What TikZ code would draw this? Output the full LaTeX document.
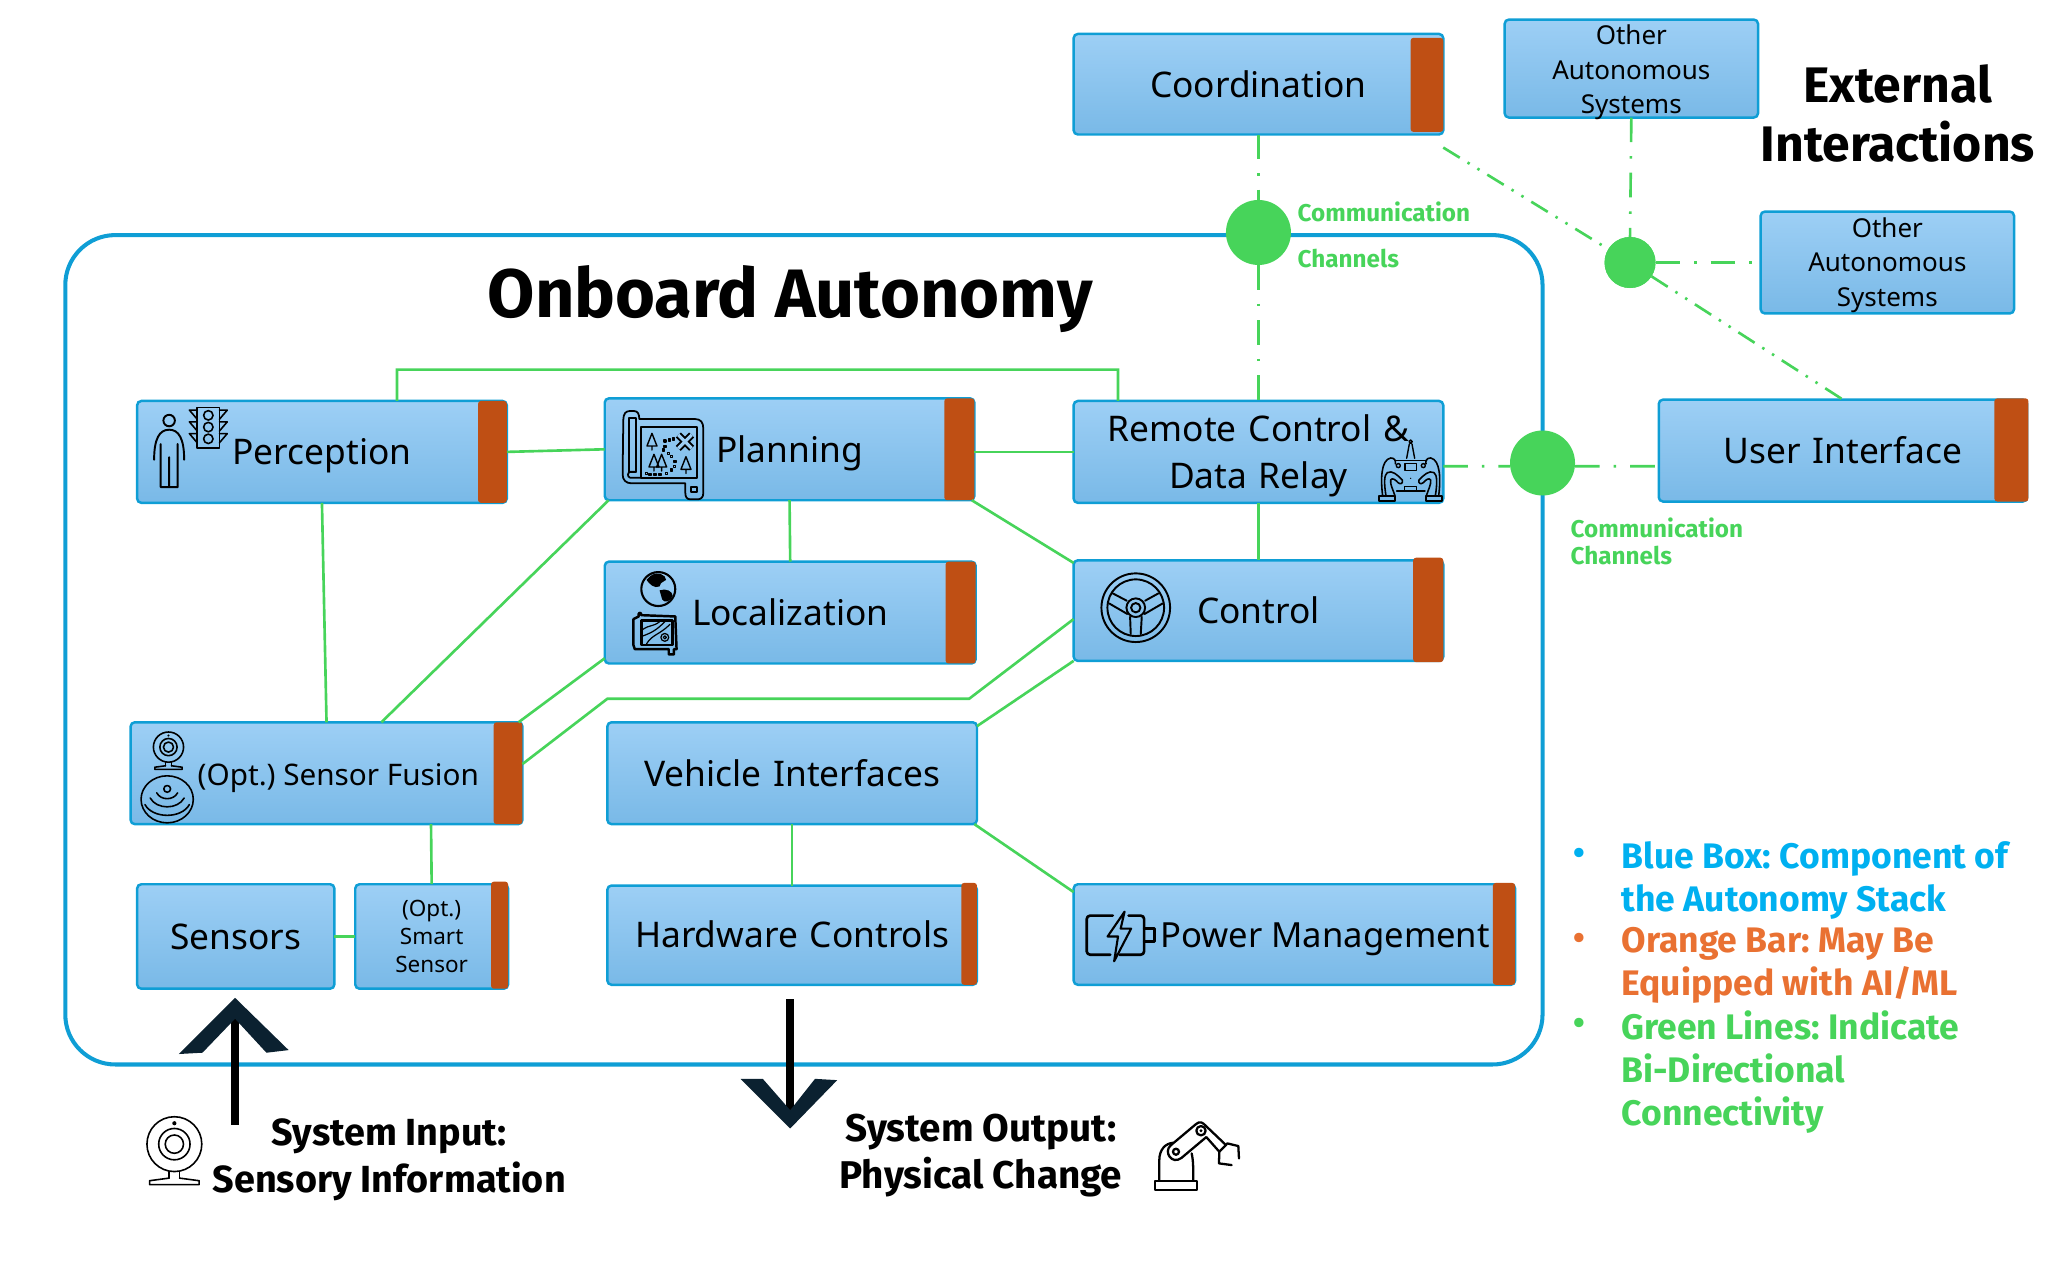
\documentclass[tikz,border=0pt]{standalone}
\usepackage{fontspec}
\setmainfont{Noto Sans}[BoldFont={Fira Sans Bold}]
\usetikzlibrary{calc}
\definecolor{bord}{HTML}{0F9ED5}
\definecolor{boxt}{HTML}{9DCFF5}
\definecolor{boxb}{HTML}{79B9E7}
\definecolor{barc}{HTML}{BF4F14}
\definecolor{grn}{HTML}{47D45A}
\definecolor{legb}{HTML}{00B0F0}
\definecolor{lego}{HTML}{E97132}
\definecolor{navy}{HTML}{0B2130}
\newcommand{\fs}[2]{\fontsize{#1}{#2}\selectfont\frenchspacing}
\newcommand{\bxs}{\rule[-2.7pt]{0pt}{12.7pt}}
\tikzset{
  x=0.0130612cm,y=-0.0130612cm,
  bluebox/.style={draw=bord,line width=0.7pt,rounded corners=1.2pt,top color=boxt,bottom color=boxb,inner sep=0pt,outer sep=0pt,align=center,text=black,execute at begin node=\bxs,execute at end node=\bxs},
  barbox/.style={fill=barc,draw=none,rounded corners=0.8pt,inner sep=0pt,outer sep=0pt},
  link/.style={draw=grn,line width=0.75pt},
  dashlink/.style={draw=grn,line width=0.75pt,dash pattern=on 7pt off 4pt on 0.7pt off 4pt},
  dashlinkb/.style={draw=grn,line width=0.75pt,dash pattern=on 5.5pt off 2.6pt on 0.7pt off 2.6pt on 0.7pt off 2.6pt},
  hubc/.style={circle,fill=grn,draw=none,inner sep=0pt,outer sep=0pt},
  ico/.style={draw=black,line width=0.45pt,line join=round,line cap=round},
  mainlabel/.style={font=\fs{10.05}{13.4}},
  smalllabel/.style={font=\fs{7.4}{9.85},align=center,inner sep=0pt},
  smartlabel/.style={font=\fs{6.4}{7.9}\def\bxs{\rule[-0.4pt]{0pt}{5.4pt}}},
  commlabel/.style={text=grn,align=left,anchor=west,inner sep=0pt},
  legendtext/.style={font=\bfseries\fs{10.1}{12.2},align=left,anchor=west,inner sep=0pt},
  blacklabel/.style={font=\bfseries\fs{11}{13.4},align=center,inner sep=0pt},
}
\newcommand{\bx}[6][mainlabel]{%
  \pgfmathsetmacro\bw{(#4-#2)*0.0130612}\pgfmathsetmacro\bh{(#5-#3)*0.0130612}%
  \node[bluebox,#1,minimum width=\bw cm,minimum height=\bh cm,text width=\bw cm] (#6) at ({(#2+#4)/2},{(#3+#5)/2})}
\newcommand{\br}[5]{%
  \pgfmathsetmacro\bw{(#4-#2)*0.0130612}\pgfmathsetmacro\bh{(#5-#3)*0.0130612}%
  \node[barbox,minimum width=\bw cm,minimum height=\bh cm] (#1) at ({(#2+#4)/2},{(#3+#5)/2}) {};}
\newcommand{\webcam}[3]{%
\begin{scope}[shift={(#1,#2)},scale=#3]
 \draw[ico] (0,0) circle (21);
 \draw[ico] (0,0) circle (12);
 \draw[ico] (0,0) circle (7);
 \fill (0,-16) circle (1.6);
 \draw[ico] (-4,21) -- (-4,26) (4,21) -- (4,26);
 \draw[ico] (-4,26) -- (-19,28) -- (-19,31) -- (19,31) -- (19,28) -- (4,26);
\end{scope}}
\begin{document}
\begin{tikzpicture}
\useasboundingbox (0,0) rectangle (1568,980);
% frame
\pgfmathsetmacro\fw{(1181-50)*0.0130612}\pgfmathsetmacro\fh{(815-180)*0.0130612}
\node[draw=bord,line width=1.15pt,rounded corners=0.5cm,minimum width=\fw cm,minimum height=\fh cm,inner sep=0pt,outer sep=0pt] (frame) at (615.5,497.5) {};
% boxes
\bx{822}{26}{1105}{103}{coord} {Coordination};
\bx{1152}{15}{1346}{90}{other1} {};
\bx{1348}{162}{1542}{240}{other2} {};
\node[smalllabel] (other1txt) at (1249,55.5) {Other\\Autonomous\\Systems};
\node[smalllabel] (other2txt) at (1445,203) {Other\\Autonomous\\Systems};
\bx{1270}{306}{1552}{384}{ui} {User Interface};
\bx{105}{307}{388}{385}{perc} {Perception};
\bx{463}{305}{746}{383}{plan} {Planning};
\bx{822}{307}{1105}{385}{remote} {Remote Control \&\\Data Relay};
\bx{463}{430}{747}{508}{loc} {Localization};
\bx{822}{429}{1105}{506}{ctrl} {Control};
\bx{100}{553}{400}{631}{fusion} {};
\bx{465}{553}{748}{631}{veh} {Vehicle Interfaces};
\bx{105}{677}{256}{757}{sensors} {Sensors};
\bx[smartlabel]{272}{677}{389}{757}{smart} {(Opt.)\\Smart\\Sensor};
\bx{465}{678}{748}{754}{hw} {Hardware Controls};
\bx{822}{677}{1160}{754}{power} {};
\node[font=\fs{8.45}{10},inner sep=0pt] (fusiontxt) at (259,596) {\strut(Opt.) Sensor Fusion};
\node[font=\fs{9.85}{13.4},inner sep=0pt] (powertxt) at (1014.5,718) {\strut Power Management};
% bars
\br{b1}{1080}{29}{1105}{101}
\br{b2}{1527}{305}{1553}{384}
\br{b3}{366}{307}{388}{385}
\br{b4}{723}{305}{746}{383}
\br{b5}{724}{430}{747}{508}
\br{b6}{1082}{427}{1105}{507}
\br{b7}{378}{553}{400}{631}
\br{b8}{376}{675}{389}{757}
\br{b9}{736}{676}{748}{754}
\br{b10}{1143}{676}{1160}{754}
% hubs
\node[hubc,minimum size=0.65cm] (hub1) at (963.5,178) {};
\node[hubc,minimum size=0.51cm] (hub2) at (1248,201) {};
\node[hubc,minimum size=0.65cm] (hub3) at (1181,354.5) {};
% connectors
\coordinate (loopL) at (304,283);
\coordinate (loopR) at (856,283);
\coordinate (bendA) at (465,535);
\coordinate (bendB) at (742,535);
\draw[link] ($(perc.north)+(57.5,0)$) -- (loopL) -- (loopR) -- ($(remote.north)+(-107.5,0)$);
\draw[link] (perc.south) -- (fusion.north);
\draw[link] (perc.east) -- (plan.west);
\draw[link] ($(plan.east)+(0,2)$) -- (remote.west);
\draw[link] ($(plan.south west)+(3,0)$) -- ($(fusion.north)+(42,0)$);
\draw[link] (plan.south) -- (loc.north);
\draw[link] ($(plan.south east)+(-2,0)$) -- ($(ctrl.north west)+(0,2)$);
\draw[link] ($(loc.south west)+(0,-4)$) -- ($(fusion.north east)+(-3,0)$);
\draw[link] ($(fusion.east)+(0,-7)$) -- (bendA) -- (bendB) -- ($(ctrl.west)+(0,6.5)$);
\draw[link] ($(veh.north east)+(0,3)$) -- (ctrl.south west);
\draw[link] (remote.south) -- (ctrl.north);
\draw[link] ($(fusion.south)+(80,0)$) -- (smart.north);
\draw[link] (sensors.east) -- (smart.west);
\draw[link] (veh.south) -- (hw.north);
\draw[link] ($(veh.south east)+(-2,0)$) -- ($(power.north west)+(0,6)$);
% dash-dot
\draw[dashlink] (coord.south) -- (hub1.north);
\draw[dashlink] (hub1.south) -- (remote.north);
\draw[dashlink] (other1.south) -- (hub2.north);
\draw[dashlink] (hub2.east) -- (other2.west);
\draw[dashlink] ($(remote.east)+(0,11)$) -- ($(hub3.west)+(0,2.5)$);
\draw[dashlink] ($(hub3.east)+(0,2.5)$) -- ($(ui.west)+(0,12)$);
\draw[dashlinkb] ($(coord.south east)+(0,10)$) -- (hub2);
\draw[dashlinkb] (hub2) -- (ui.north);
\node[hubc,minimum size=0.51cm] (hub2b) at (1248,201) {};
% titles
\node[font=\bfseries\fs{19.5}{22},inner sep=0pt] (title) at (605,229) {Onboard Autonomy};
\node[font=\bfseries\fs{14.2}{16.7},align=center,inner sep=0pt] (ext) at (1453,87) {External\\Interactions};
\node[commlabel,font=\bfseries\fs{6.9}{13}] (c1) at (993,180) {Communication\\Channels};
\node[commlabel,font=\bfseries\fs{6.9}{7.8}] (c2) at (1202,414.5) {Communication\\Channels};
\node[blacklabel,font=\bfseries\fs{10.75}{13.4}] (sysin) at (298,888) {System Input:\\Sensory Information};
\node[blacklabel] (sysout) at (751,885) {System Output:\\Physical Change};
% legend
\node[text=legb,font=\bfseries\fs{9.6}{12}] (bu1) at (1209,656) {•};
\node[text=lego,font=\bfseries\fs{9.6}{12}] (bu2) at (1209,721) {•};
\node[text=grn,font=\bfseries\fs{9.6}{12}] (bu3) at (1209,786) {•};
\node[legendtext,text=legb] (l1) at (1241,674) {Blue Box: Component of\\the Autonomy Stack};
\node[legendtext,text=lego] (l2) at (1241,739) {Orange Bar: May Be\\Equipped with AI/ML};
\node[legendtext,text=grn] (l3) at (1241,821) {Green Lines: Indicate\\Bi-Directional\\Connectivity};
% big arrows
\coordinate (upS) at (180,861);
\coordinate (upE) at (180,775);
\coordinate (dnS) at (605,765);
\coordinate (dnE) at (605,855);
\draw[line width=2.2pt,black] (upS) -- (upE);
\draw[line width=2.2pt,black] (dnS) -- (dnE);
\fill[navy] (180,764) -- (221,804) -- (204,806) -- (180,780) -- (155,806) -- (137,807) -- cycle;
\fill[navy] (605,864) -- (567,826) -- (584,826) -- (605,850) -- (624,826) -- (641,827) -- cycle;
% --- icons ---
% person
\draw[ico,line width=0.55pt] (129.5,322) circle (4.4);
\draw[ico,line width=0.55pt] (118,352) .. controls (118,336) and (122,329) .. (129.5,329) .. controls (137,329) and (141,336) .. (141,352)
  (123,340) -- (123,373) -- (136,373) -- (136,340) (129.5,350) -- (129.5,373);
% traffic light
\draw[ico] (151,312) rectangle (168,343);
\foreach \yy in {318,327,336}{\draw[ico] (159.5,\yy) circle (3.6);
  \draw[ico] (151,\yy-4) -- (145,\yy-4) -- (151,\yy+3) (168,\yy-4) -- (174,\yy-4) -- (168,\yy+3);}
% map (planning)
\begin{scope}[shift={(467,310.1)},scale=0.2552]
\draw[ico,line width=0.5pt] (40,45) .. controls (40,25) and (48,18) .. (60,18) -- (72,18) .. controls (84,18) and (88,28) .. (88,42) -- (255,42) .. controls (272,42) and (280,52) .. (280,70) -- (280,265) .. controls (280,278) and (272,283) .. (262,283) -- (242,283) .. controls (230,283) and (226,276) .. (226,262) -- (226,235) -- (65,235) .. controls (48,235) and (38,225) .. (38,208) -- cycle;
\draw[ico,line width=0.5pt] (58,38) rectangle (78,200);
\draw[ico,line width=0.5pt] (93,65) rectangle (262,218);
\draw[ico,line width=0.5pt] (243,247) rectangle (262,262);
\draw[ico,line width=0.5pt] (78,200) -- (60,200) .. controls (52,204) and (52,215) .. (60,218) -- (93,218);
\foreach \xx/\yy in {126/85,132/148,155/148,228/155}{\draw[ico,line width=0.4pt] (\xx,\yy) -- ++(-15,38) -- ++(30,0) -- cycle (\xx,\yy+38) -- ++(0,12);}
\draw[black,line width=2pt] (205,90) -- (245,130) (245,90) -- (205,130);
\draw[boxt,line width=0.9pt] (205,90) -- (245,130) (245,90) -- (205,130);
\foreach \xx/\yy in {190/102,178/105,165/108,165/125,160/135,175/145,185/155,195/170,193/185,185/195,170/205,150/208,135/208,120/208,110/205}{\draw[ico,line width=0.35pt] (\xx-3,\yy-3) rectangle (\xx+3,\yy+3);}
\end{scope}
% globe + map (localization)
\draw[ico,line width=0.6pt] (504,451) circle (13);
\fill (498,441) .. controls (503,437) and (510,440) .. (510,444) .. controls (508,446) and (506,445) .. (505,449) .. controls (501,451) and (497,447) .. (495,444) -- cycle;
\fill (505,452) .. controls (510,450) and (515,453) .. (515,456) .. controls (513,461) and (509,462) .. (507,459) -- cycle;
\draw[ico,line width=0.7pt] (489,472) .. controls (488,469) and (491,468) .. (491,471) -- (517,472) -- (518,497) -- (516,497) -- (516,501) -- (512,501) -- (512,497) -- (486,497) -- (485,494) -- (485,474) -- cycle;
\draw[ico,line width=0.7pt] (491,475) rectangle (515,494);
\draw[ico,line width=0.35pt] (492,482) .. controls (498,478) and (500,480) .. (505,476) (492,487) .. controls (500,484) and (503,482) .. (509,476) (495,493) .. controls (499,486) and (505,486) .. (513,478);
\draw[ico,line width=0.35pt] (509,488) circle (3) (509,488) circle (1.2);
% steering wheel
\begin{scope}[shift={(834.6,428.8)},scale=0.2552]
\draw[ico,line width=0.55pt] (137,143) circle (103) (137,143) circle (85) (137,143) circle (28) (137,143) circle (14);
\draw[ico,line width=0.55pt] (68,100) -- (110,122) (57,130) -- (112,162) (205,100) -- (165,122) (218,130) -- (163,162) (122,222) -- (120,170) (152,222) -- (155,170);
\end{scope}
% webcam + radar (fusion)
\webcam{129}{572}{0.55}
\draw[ico] (128,612) circle [x radius=20,y radius=18];
\draw[ico] (128,604) circle (2.6);
\draw[ico] (120,607) .. controls (123,613) and (133,613) .. (136,607)
           (115,611) .. controls (120,620) and (136,620) .. (141,611)
           (111,616) .. controls (117,627) and (139,627) .. (145,616);
% battery
\draw[ico,line width=0.75pt,rounded corners=1pt] (852,701) -- (832,701) -- (832,731) -- (850,731);
\draw[ico,line width=0.75pt,rounded corners=1pt] (864,701) -- (876,701) -- (876,731) -- (857,731);
\draw[ico,line width=0.75pt] (876,711) -- (884,711) -- (884,721) -- (876,721);
\draw[ico,line width=0.6pt] (861,698) -- (848,717) -- (856,717) -- (853,736) -- (866,711) -- (858,711) -- cycle;
% remote icon
\begin{scope}[shift={(1048.9,329.2)},scale=0.2552]
\draw[ico,line width=0.4pt] (122,35) circle (5) (118,42) -- (110,85) (126,42) -- (134,85);
\draw[ico,line width=0.4pt] (75,92) -- (170,92);
\draw[ico,line width=0.4pt] (105,100) rectangle (140,122);
\draw[ico,line width=0.4pt] (85,107) circle (6) (160,107) circle (6);
\fill (122,145) circle (2);
\draw[ico,line width=0.4pt] (103,170) rectangle (140,183) (80,183) -- (165,183);
\foreach \m in {1,-1}{
\begin{scope}[shift={(122,0)},xscale=\m]
\draw[ico,line width=0.45pt] (-84,198) .. controls (-90,150) and (-90,90) .. (-60,84) .. controls (-48,84) and (-44,92) .. (-46,102);
\draw[ico,line width=0.45pt] (-74,198) .. controls (-80,160) and (-80,135) .. (-70,128) .. controls (-55,120) and (-40,135) .. (-25,150) .. controls (-22,160) and (-30,165) .. (-38,158) .. controls (-45,150) and (-55,142) .. (-60,150);
\draw[ico,line width=0.45pt] (-60,150) .. controls (-62,165) and (-52,180) .. (-47,198);
\draw[ico,line width=0.6pt,fill=none] (-94,198) rectangle (-47,213);
\end{scope}}
\end{scope}
% big webcam
\webcam{133.5}{876}{1}
% robot arm
\begin{scope}[shift={(872.8,849.9)},scale=0.2552]
\draw[ico,line width=0.65pt] (45,212) rectangle (172,240);
\draw[ico,line width=0.65pt] (58,212) -- (58,150) .. controls (58,120) and (75,100) .. (100,98);
\draw[ico,line width=0.65pt] (155,130) .. controls (160,150) and (160,180) .. (160,212);
\draw[ico,line width=0.65pt] (92,106) -- (167,43) .. controls (180,30) and (190,40) .. (195,45) -- (258,105);
\draw[ico,line width=0.65pt] (92,106) .. controls (70,125) and (95,165) .. (124,144) -- (199,81) -- (238,125) -- (258,105);
\draw[ico,line width=0.65pt] (183,62) circle (14) (108,125) circle (9);
\fill (183,62) circle (5);
\draw[ico,line width=0.65pt] (258,105) -- (262,100) -- (295,108) -- (297,145) (238,125) -- (237,160) -- (275,165);
\end{scope}
\end{tikzpicture}
\end{document}
